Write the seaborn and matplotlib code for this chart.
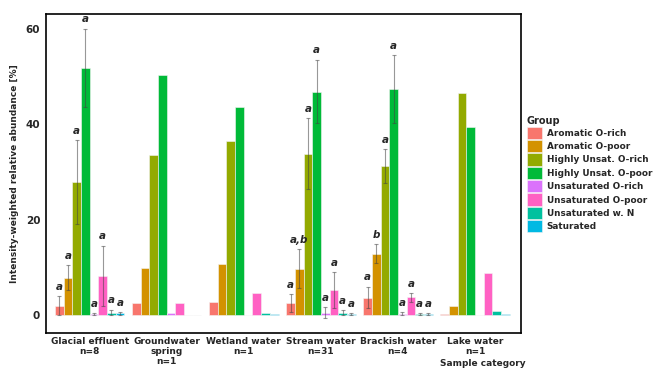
import numpy as np
import pandas as pd
import matplotlib
matplotlib.use("Agg")
import matplotlib.pyplot as plt
import seaborn as sns

# ---------------------------------------------------------------------------
# data
# ---------------------------------------------------------------------------
categories = ["Glacial effluent", "Groundwater spring", "Wetland water",
              "Stream water", "Brackish water", "Lake water"]
tick_labels = ["Glacial effluent\nn=8", "Groundwater\nspring\nn=1", "Wetland water\nn=1",
               "Stream water\nn=31", "Brackish water\nn=4", "Lake water\nn=1"]
groups = ["Aromatic O-rich", "Aromatic O-poor", "Highly Unsat. O-rich",
          "Highly Unsat. O-poor", "Unsaturated O-rich", "Unsaturated O-poor",
          "Unsaturated w. N", "Saturated"]
group_colors = ["#F8766D", "#D39200", "#93AA00", "#00BA38",
                "#DB72FB", "#FF61C3", "#00C19F", "#00B9E3"]

# mean abundance per group (rows) and category (columns)
means = {
    "Aromatic O-rich":      [1.9, 2.5, 2.8, 2.5, 3.6, 0.2],
    "Aromatic O-poor":      [7.8, 9.9, 10.6, 9.6, 12.8, 1.9],
    "Highly Unsat. O-rich": [27.9, 33.5, 36.5, 33.8, 31.2, 46.5],
    "Highly Unsat. O-poor": [51.8, 50.3, 43.5, 46.8, 47.3, 39.3],
    "Unsaturated O-rich":   [0.1, 0.5, 0.05, 0.5, 0.2, 0.05],
    "Unsaturated O-poor":   [8.2, 2.5, 4.6, 5.2, 3.8, 8.8],
    "Unsaturated w. N":     [0.5, 0.05, 0.3, 0.3, 0.2, 0.9],
    "Saturated":            [0.3, 0.05, 0.2, 0.2, 0.1, 0.1],
}
# error bar lower / upper ends (NaN where n=1)
nan = np.nan
err_lo = {
    "Aromatic O-rich":      [0.0, nan, nan, 0.6, 1.5, nan],
    "Aromatic O-poor":      [5.2, nan, nan, 5.7, 10.9, nan],
    "Highly Unsat. O-rich": [19.1, nan, nan, 26.4, 27.7, nan],
    "Highly Unsat. O-poor": [43.6, nan, nan, 40.2, 40.2, nan],
    "Unsaturated O-rich":   [-0.1, nan, nan, -0.6, -0.1, nan],
    "Unsaturated O-poor":   [1.9, nan, nan, 1.5, 2.7, nan],
    "Unsaturated w. N":     [0.0, nan, nan, -0.1, 0.0, nan],
    "Saturated":            [0.0, nan, nan, 0.0, 0.0, nan],
}
err_hi = {
    "Aromatic O-rich":      [4.0, nan, nan, 4.4, 5.9, nan],
    "Aromatic O-poor":      [10.5, nan, nan, 13.8, 14.9, nan],
    "Highly Unsat. O-rich": [36.7, nan, nan, 41.3, 34.8, nan],
    "Highly Unsat. O-poor": [60.0, nan, nan, 53.5, 54.4, nan],
    "Unsaturated O-rich":   [0.3, nan, nan, 1.7, 0.6, nan],
    "Unsaturated O-poor":   [14.5, nan, nan, 9.0, 4.6, nan],
    "Unsaturated w. N":     [1.1, nan, nan, 1.0, 0.4, nan],
    "Saturated":            [0.6, nan, nan, 0.4, 0.3, nan],
}
# significance letters ("" = none)
letters = {
    "Aromatic O-rich":      ["a", "", "", "a", "a", ""],
    "Aromatic O-poor":      ["a", "", "", "a,b", "b", ""],
    "Highly Unsat. O-rich": ["a", "", "", "a", "a", ""],
    "Highly Unsat. O-poor": ["a", "", "", "a", "a", ""],
    "Unsaturated O-rich":   ["a", "", "", "a", "a", ""],
    "Unsaturated O-poor":   ["a", "", "", "a", "a", ""],
    "Unsaturated w. N":     ["a", "", "", "a", "a", ""],
    "Saturated":            ["a", "", "", "a", "a", ""],
}

rows = []
for g in groups:
    for i, c in enumerate(categories):
        rows.append({"category": c, "group": g, "value": means[g][i]})
df = pd.DataFrame(rows)

# ---------------------------------------------------------------------------
# plot
# ---------------------------------------------------------------------------
sns.set_style("white")
plt.rcParams["font.family"] = ["DejaVu Sans"]
plt.rcParams["font.weight"] = "bold"

fig = plt.figure(figsize=(6.54, 3.68), dpi=100)
ax = fig.add_axes([0.070, 0.095, 0.727, 0.867])

sns.barplot(data=df, x="category", y="value", hue="group",
            order=categories, hue_order=groups, palette=group_colors,
            saturation=1, width=0.9, errorbar=None,
            edgecolor="#f4f4f4", linewidth=0.4, ax=ax)

for g, cont in zip(groups, ax.containers):
    for i, bar in enumerate(cont):
        x = bar.get_x() + bar.get_width() / 2
        lo, hi = err_lo[g][i], err_hi[g][i]
        if not np.isnan(lo):
            ax.errorbar(x, means[g][i], yerr=[[means[g][i] - lo], [hi - means[g][i]]],
                        fmt="none", ecolor="#444444", alpha=0.55, elinewidth=0.8,
                        capsize=1.6, capthick=0.8)
        if letters[g][i]:
            ax.text(x, hi + 0.9, letters[g][i], ha="center", va="bottom",
                    fontsize=7.5, fontweight="bold", fontstyle="italic")

ax.set_xlim(-0.57, 5.6)
ax.set_ylim(-3.8, 63.1)
ax.set_yticks([0, 20, 40, 60])
ax.set_xticks(range(len(categories)))
ax.set_xticklabels(tick_labels, fontsize=6.5, fontweight="bold", linespacing=1.1)
ax.tick_params(axis="y", labelsize=7.5, length=0, pad=4)
ax.tick_params(axis="x", length=0, pad=3)
for lab in ax.get_yticklabels():
    lab.set_fontweight("bold")
ax.set_xlabel("")
ax.set_ylabel("Intensity-weighted relative abundance [%]", fontsize=6.5,
              fontweight="bold", labelpad=5)
for s in ax.spines.values():
    s.set_color("black")
    s.set_linewidth(1.2)

fig.text(483 / 654, 1 - 363 / 368, "Sample category", ha="center", va="center",
         fontsize=6.5, fontweight="bold")

handles, labels = ax.get_legend_handles_labels()
ax.legend_.remove()
leg = fig.legend(handles, labels, title="Group", loc="upper left",
                 bbox_to_anchor=(0.8017, 0.693), frameon=False, fontsize=6.4,
                 title_fontsize=7, handlelength=1.68, handleheight=1.75,
                 handletextpad=0.55, labelspacing=0.12, alignment="left",
                 borderaxespad=0.0, borderpad=0.3)
leg.get_title().set_fontweight("bold")

fig.savefig("out.png", dpi=100)
